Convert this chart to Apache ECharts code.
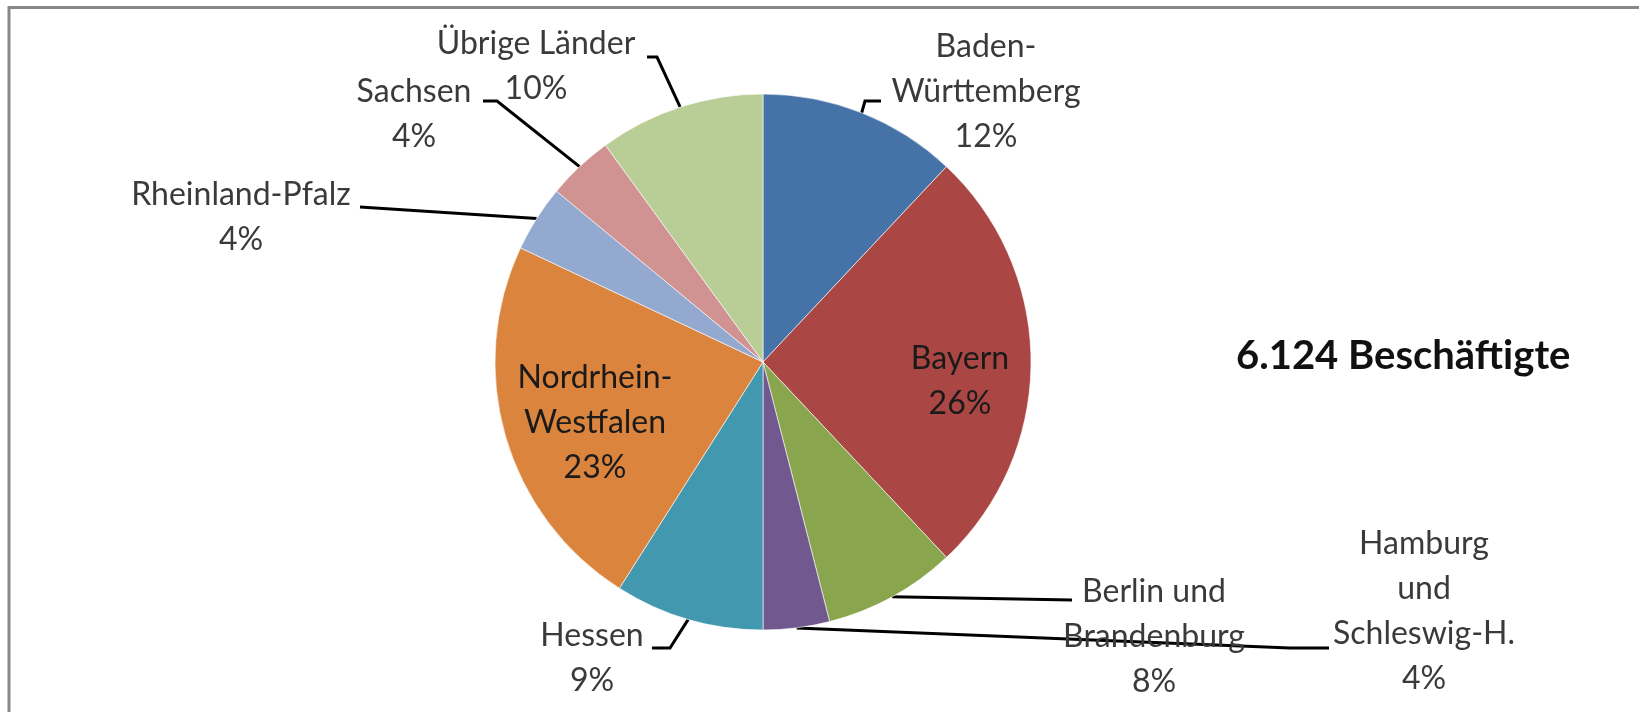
<!DOCTYPE html>
<html>
<head>
<meta charset="utf-8">
<title>Beschäftigte nach Ländern</title>
<script src="https://cdn.jsdelivr.net/npm/echarts@6/dist/echarts.min.js"></script>
<style>
  html, body { margin: 0; padding: 0; background: #fff; }
  #chart { width: 1639px; height: 712px; }
</style>
</head>
<body>
<div id="chart"></div>
<script>
// Anteile der Beschäftigten je Bundesland (%)
const laender = [
  'Baden-\nWürttemberg',
  'Bayern',
  'Berlin und\nBrandenburg',
  'Hamburg\nund\nSchleswig-H.',
  'Hessen',
  'Nordrhein-\nWestfalen',
  'Rheinland-Pfalz',
  'Sachsen',
  'Übrige Länder'
];
const anteile = [12, 26, 8, 4, 9, 23, 4, 4, 10];
const gesamt = '6.124 Beschäftigte';

const farben = ['#4572a7', '#aa4643', '#89a54e', '#71588f', '#4198af',
                '#db843d', '#93a9cf', '#d19392', '#b9cd96'];
// labels drawn inside the slice
const innen = [false, true, false, false, false, true, false, false, false];

// label block centres (px) and leader line bends, like the excel layout
const labelPos = [
  [986, 92], [960, 381], [1154, 637], [1424, 611], [592, 658],
  [595, 423], [241, 217], [414, 114], [536, 66]
];
const knicke = [
  [[865, 101], [881, 101]],
  null,
  [[1072, 600]],
  [[1290, 648], [1329, 648]],
  [[670, 648], [652, 648]],
  null,
  [[360, 207]],
  [[497, 101], [483, 101]],
  [[657, 57], [647, 57]]
];

const daten = laender.map(function (n, i) {
  const item = { name: n, value: anteile[i], itemStyle: { color: farben[i] } };
  if (innen[i]) {
    item.label = { position: 'inside', color: '#1a1a1a' };
    item.labelLine = { show: false };
  }
  return item;
});

const chart = echarts.init(document.getElementById('chart'));
chart.setOption({
  animation: false,
  backgroundColor: '#fff',
  graphic: [
    {
      type: 'rect',
      shape: { x: 9, y: 7.5, width: 1700, height: 800 },
      style: { fill: 'none', stroke: '#888', lineWidth: 3 },
      silent: true
    },
    {
      type: 'text',
      left: 1236,
      top: 336,
      style: {
        text: gesamt,
        font: 'bold 40px Lato',
        fill: '#111'
      }
    }
  ],
  series: [
    {
      type: 'pie',
      center: [763, 362],
      radius: 268,
      startAngle: 90,
      clockwise: true,
      avoidLabelOverlap: false,
      itemStyle: { borderColor: 'rgba(255,255,255,0.6)', borderWidth: 1 },
      label: {
        show: true,
        position: 'outside',
        fontFamily: 'Lato',
        fontSize: 32,
        lineHeight: 45,
        color: '#3a3a3a',
        align: 'center',
        formatter: function (p) { return p.name + '\n' + p.value + '%'; }
      },
      labelLine: {
        show: true,
        lineStyle: { color: '#000', width: 3 }
      },
      labelLayout: function (params) {
        const i = params.dataIndex;
        const out = {
          x: labelPos[i][0],
          y: labelPos[i][1],
          align: 'center',
          verticalAlign: 'middle'
        };
        if (knicke[i] && params.labelLinePoints) {
          out.labelLinePoints = [params.labelLinePoints[0]].concat(knicke[i]);
        }
        return out;
      },
      emphasis: { disabled: true },
      data: daten
    }
  ]
});
</script>
</body>
</html>
